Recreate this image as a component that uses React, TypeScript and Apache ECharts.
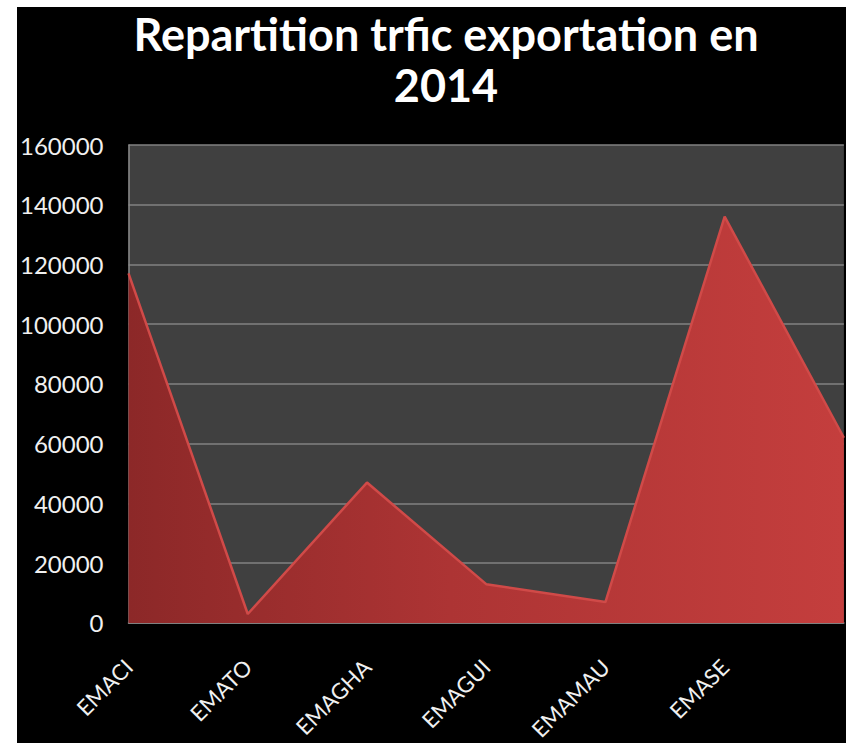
import React, { useEffect, useRef } from "react";
import * as echarts from "echarts";

const titleText = "Repartition trfic exportation en\n2014";
const categories = ["EMACI", "EMATO", "EMAGHA", "EMAGUI", "EMAMAU", "EMASE", ""];
const values = [117000, 3000, 47000, 13000, 7000, 136000, 62000];
const yMin = 0;
const yMax = 160000;
const yInterval = 20000;

export default function App() {
  const ref = useRef<HTMLDivElement>(null);
  useEffect(() => {
    if (!ref.current) return;
    const chart = echarts.init(ref.current, undefined, { renderer: "svg" });
    chart.setOption({
      animation: false,
      backgroundColor: "#000000",
      title: {
        text: titleText,
        left: 429,
        top: 1,
        padding: 0,
        textAlign: "center",
        textStyle: {
          color: "#ffffff",
          fontFamily: "Lato",
          fontWeight: "bold",
          fontSize: 45,
          lineHeight: 51,
        },
      },
      grid: {
        left: 110,
        right: 2,
        top: 138,
        bottom: 118,
        show: true,
        backgroundColor: "#404040",
        borderWidth: 0,
      },
      xAxis: {
        type: "category",
        data: categories,
        boundaryGap: false,
        axisLine: { show: true, lineStyle: { color: "#8a8a8a", width: 1.5 } },
        axisTick: { show: false },
        axisLabel: {
          rotate: 45,
          margin: 40,
          color: "#f0f0f0",
          fontFamily: "Lato",
          fontSize: 22,
          interval: 0,
        },
        splitLine: { show: false },
      },
      yAxis: {
        type: "value",
        min: yMin,
        max: yMax,
        interval: yInterval,
        axisLine: { show: true, lineStyle: { color: "#8a8a8a", width: 1.5 } },
        axisTick: { show: false },
        axisLabel: {
          margin: 25,
          color: "#f0f0f0",
          fontFamily: "Lato",
          fontSize: 24,
          formatter: (v: number) => String(v),
        },
        splitLine: { show: true, lineStyle: { color: "#828282", width: 1.5 } },
      },
      series: [
        {
          type: "line",
          data: values,
          symbol: "none",
          lineStyle: { color: "#d04a48", width: 2.5 },
          areaStyle: {
            opacity: 1,
            color: new echarts.graphic.LinearGradient(0, 0, 1, 0, [
              { offset: 0, color: "#8c2828" },
              { offset: 0.45, color: "#ad3434" },
              { offset: 1, color: "#c43e3d" },
            ]),
          },
        },
      ],
    });
    return () => chart.dispose();
  }, []);
  return (
    <div
      ref={ref}
      style={{ position: "absolute", left: 17, top: 7, width: 829, height: 736 }}
    />
  );
}
